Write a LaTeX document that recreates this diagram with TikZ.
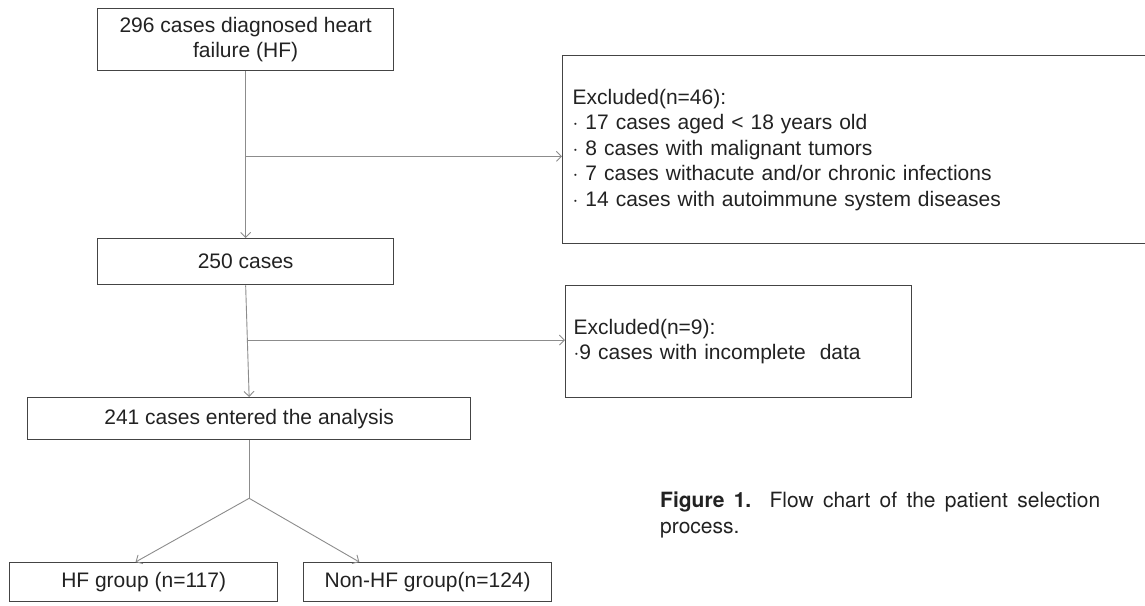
\documentclass[tikz,border=0pt]{standalone}
\usepackage{fontspec}
\setmainfont{Liberation Sans}
\newfontfamily\capfont{TeX Gyre Heros}
\usetikzlibrary{arrows.meta,calc}
\definecolor{boxline}{HTML}{444444}
\definecolor{connline}{HTML}{8C8C8C}
\definecolor{txt}{HTML}{222222}
\tikzset{
  flowbox/.style={draw=boxline, line width=1.3pt, fill=white, text=txt, inner sep=0pt,
    font=\fontsize{21}{25.5}\selectfont, align=center, anchor=north west},
  exbox/.style={flowbox, align=left},
  conn/.style={draw=connline, line width=0.9pt},
  connarrow/.style={conn, -{Straight Barb[length=5pt,width=10pt,line width=0.9pt]}},
}
\begin{document}
\begin{tikzpicture}[x=1pt,y=-1pt]
\clip (0,0) rectangle (1145,605);
\fill[white] (0,0) rectangle (1145,605);
% main boxes
\node[flowbox, minimum width=296pt, minimum height=62pt] (n296) at (97,8)
  {296 cases diagnosed heart\\failure (HF)};
\node[flowbox, minimum width=296pt, minimum height=46pt] (n250) at (97,238) {250 cases};
\node[flowbox, minimum width=443pt, minimum height=42pt] (n241) at (27,397) {241 cases entered the analysis};
\node[flowbox, minimum width=268pt, minimum height=39pt] (hf) at (9,562) {HF group (n=117)};
\node[flowbox, minimum width=248pt, minimum height=39pt] (nhf) at (303,562) {Non-HF group(n=124)};
% exclusion boxes
\node[exbox, minimum width=600pt, minimum height=188pt, text width=580pt, inner xsep=8pt] (ex1) at (562,55)
  {Excluded(n=46):\\
   $\cdot$ 17 cases aged < 18 years old\\
   $\cdot$ 8 cases with malignant tumors\\
   $\cdot$ 7 cases withacute and/or chronic infections\\
   $\cdot$ 14 cases with autoimmune system diseases};
\node[exbox, minimum width=346pt, minimum height=112pt, text width=330pt, inner xsep=8pt] (ex2) at (565,285)
  {Excluded(n=9):\\
   $\cdot$9 cases with incomplete\ \ data};
% connectors
\draw[connarrow] (n296.south) -- (n250.north);
\coordinate (j1) at ($(n296.south)!0.51!(n250.north)$);
\draw[connarrow] (j1) -- (ex1.west |- j1);
\draw[connarrow] (n250.south) -- (n241.north);
\coordinate (j2) at ($(n250.south)!0.49!(n241.north)$);
\draw[connarrow] (j2) -- (ex2.west |- j2);
\coordinate (j3) at ($(n241.south)+(0,58)$);
\draw[conn] (n241.south) -- (j3);
\draw[connarrow] (j3) -- ($(hf.north west)!0.47!(hf.north east)$);
\draw[connarrow] (j3) -- ($(nhf.north west)!0.226!(nhf.north east)$);
% caption
\node[anchor=north west, inner sep=0pt, text width=440pt, align=justify, text=txt,
  font=\capfont\fontsize{21}{26}\selectfont] (cap) at (660,492)
  {\hyphenpenalty=10000 \exhyphenpenalty=10000
   \textbf{Figure 1.} Flow chart of the patient selection\linebreak process.};
\end{tikzpicture}
\end{document}
